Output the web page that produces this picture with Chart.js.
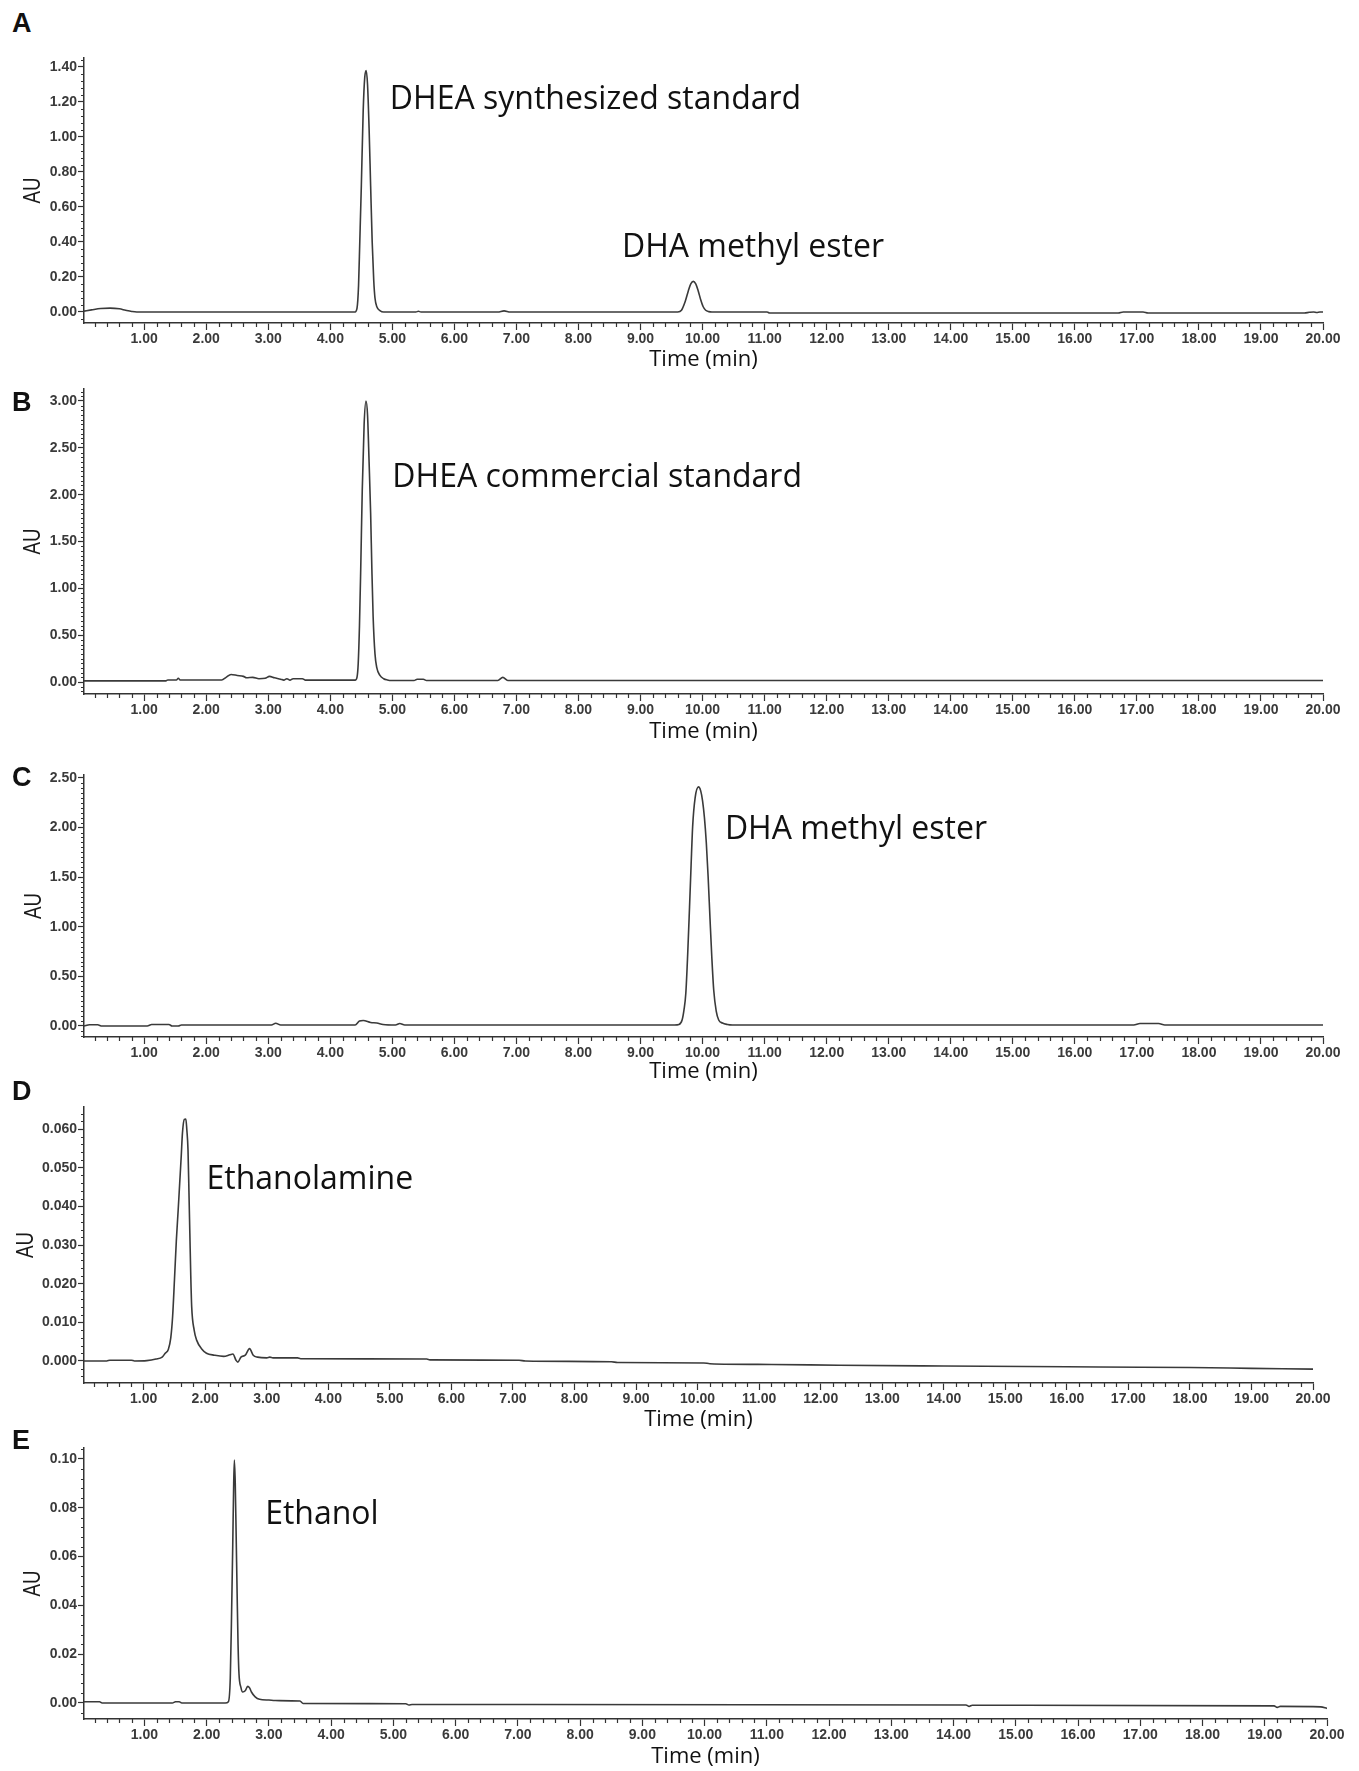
<!DOCTYPE html>
<html>
<head>
<meta charset="utf-8">
<script src="https://cdn.jsdelivr.net/npm/chart.js@4.4.1/dist/chart.umd.min.js"></script>
<style>
  body { margin: 0; background: #fff; }
  #page { position: relative; width: 1359px; height: 1771px; overflow: hidden; background: #fff; }
  #page canvas { position: absolute; left: 0; }
  .tag { position: absolute; left: 12px; font: bold 27px 'Liberation Sans', Arial, sans-serif; line-height: 30px; color: #111; }
</style>
</head>
<body>
<div id="page"></div>
<script>
// [time (min), AU]
const traceA = [
  [0.03, 0.005], [0.15, 0.012], [0.30, 0.020], [0.45, 0.022], [0.60, 0.018], [0.70, 0.010], [0.80, 0.003], [0.88, 0.000],
  [4.40, 0.000], [4.43, 0.02], [4.455, 0.15], [4.475, 0.40], [4.50, 0.72], [4.53, 1.15], [4.555, 1.34], [4.578, 1.38],
  [4.60, 1.30], [4.625, 1.05], [4.65, 0.72], [4.675, 0.40], [4.70, 0.18], [4.72, 0.08], [4.75, 0.03], [4.80, 0.008], [4.86, 0.000],
  [5.38, 0.000], [5.42, 0.004], [5.46, 0.000],
  [6.70, 0.000], [6.80, 0.006], [6.90, 0.000],
  [9.60, 0.000], [9.66, 0.010], [9.72, 0.060], [9.77, 0.120], [9.81, 0.160], [9.85, 0.175], [9.89, 0.160], [9.93, 0.120],
  [9.97, 0.070], [10.01, 0.030], [10.05, 0.010], [10.10, 0.002], [10.15, 0.000],
  [11.04, 0.000], [11.08, -0.006], [16.70, -0.006], [16.78, 0.000], [17.10, 0.000], [17.18, -0.006],
  [19.70, -0.006], [19.78, -0.002], [19.85, 0.000], [19.90, -0.003], [19.95, 0.000], [20.00, 0.000]
]

const traceB = [
  [0.03, 0.012], [1.35, 0.012], [1.38, 0.022], [1.52, 0.022], [1.55, 0.040], [1.58, 0.022],
  [2.25, 0.022], [2.32, 0.050], [2.40, 0.080], [2.50, 0.070], [2.60, 0.060], [2.65, 0.045], [2.75, 0.050], [2.85, 0.035],
  [2.95, 0.040], [3.02, 0.060], [3.10, 0.045], [3.20, 0.030], [3.25, 0.020], [3.30, 0.035], [3.35, 0.020], [3.40, 0.035],
  [3.55, 0.035], [3.60, 0.020],
  [4.40, 0.020], [4.43, 0.05], [4.45, 0.20], [4.47, 0.60], [4.49, 1.20], [4.515, 2.05], [4.545, 2.75], [4.575, 3.00],
  [4.60, 2.85], [4.625, 2.35], [4.65, 1.80], [4.67, 1.20], [4.69, 0.70], [4.72, 0.30], [4.75, 0.15], [4.80, 0.07],
  [4.86, 0.035], [4.92, 0.022], [4.98, 0.016],
  [5.35, 0.016], [5.40, 0.030], [5.50, 0.030], [5.55, 0.016],
  [6.70, 0.016], [6.78, 0.050], [6.86, 0.016], [20.00, 0.016]
]

const traceC = [
  [0.03, 0.000], [0.12, 0.012], [0.25, 0.012], [0.32, 0.000], [1.05, 0.000], [1.12, 0.015], [1.40, 0.015], [1.45, 0.000],
  [1.55, 0.000], [1.60, 0.010],
  [3.05, 0.010], [3.12, 0.027], [3.20, 0.010],
  [4.40, 0.010], [4.47, 0.050], [4.53, 0.055], [4.65, 0.035], [4.75, 0.030], [4.85, 0.015], [5.05, 0.010], [5.12, 0.025], [5.20, 0.010],
  [9.55, 0.010], [9.62, 0.015], [9.67, 0.060], [9.70, 0.160], [9.73, 0.330], [9.76, 0.720], [9.79, 1.200], [9.815, 1.620],
  [9.84, 2.010], [9.88, 2.300], [9.935, 2.410], [9.97, 2.370], [10.00, 2.270], [10.03, 2.100], [10.06, 1.850], [10.09, 1.500],
  [10.12, 1.080], [10.15, 0.680], [10.18, 0.360], [10.22, 0.150], [10.26, 0.060], [10.32, 0.030], [10.40, 0.015], [10.48, 0.010],
  [16.95, 0.010], [17.05, 0.025], [17.35, 0.025], [17.45, 0.010], [20.00, 0.010]
]

const traceD = [
  [0.03, 0.0000], [0.40, 0.0000], [0.45, 0.0002], [0.80, 0.0002], [0.85, 0.0000], [1.05, 0.0001], [1.20, 0.0005],
  [1.30, 0.0010], [1.35, 0.0020], [1.40, 0.0030], [1.44, 0.0060], [1.47, 0.0115], [1.50, 0.0210], [1.53, 0.0310],
  [1.56, 0.0390], [1.585, 0.0460], [1.61, 0.0530], [1.63, 0.0590], [1.66, 0.0625], [1.685, 0.0626], [1.70, 0.0600],
  [1.72, 0.0546], [1.735, 0.0440], [1.75, 0.0330], [1.765, 0.0220], [1.78, 0.0140], [1.82, 0.0080], [1.86, 0.0054],
  [1.95, 0.0030], [2.02, 0.0020], [2.15, 0.0015], [2.30, 0.0012], [2.40, 0.0016], [2.45, 0.0018], [2.50, 0.0002],
  [2.53, -0.0003], [2.58, 0.0010], [2.65, 0.0015], [2.72, 0.0032], [2.78, 0.0015], [2.85, 0.0010], [3.00, 0.0008],
  [3.05, 0.0010], [3.10, 0.0008], [3.50, 0.0008], [3.55, 0.0006], [5.60, 0.0005], [5.65, 0.0003], [7.10, 0.0002],
  [7.20, 0.0000], [8.60, -0.0002], [8.70, -0.0004], [10.10, -0.0005], [10.20, -0.0007], [11.20, -0.0009],
  [12.30, -0.0011], [14.00, -0.0013], [16.00, -0.0015], [17.20, -0.0016], [18.00, -0.0017], [19.00, -0.0019], [20.00, -0.0021]
]

const traceE = [
  [0.03, 0.0005], [0.28, 0.0005], [0.32, 0.0000], [1.45, 0.0000], [1.50, 0.0005], [1.56, 0.0005], [1.60, 0.0000],
  [2.30, 0.0000], [2.35, 0.0005], [2.38, 0.0100], [2.40, 0.0350], [2.42, 0.0650], [2.435, 0.0900], [2.446, 0.0996],
  [2.46, 0.0900], [2.475, 0.0680], [2.49, 0.0450], [2.505, 0.0240], [2.52, 0.0120], [2.55, 0.0065], [2.58, 0.0045],
  [2.62, 0.0050], [2.66, 0.0068], [2.69, 0.0062], [2.72, 0.0045], [2.78, 0.0025], [2.85, 0.0015], [3.00, 0.0012],
  [3.10, 0.0010], [3.50, 0.0008], [3.55, -0.0002], [5.20, -0.0003], [5.25, -0.0008], [5.30, -0.0006],
  [14.20, -0.0008], [14.25, -0.0014], [14.30, -0.0009], [19.15, -0.0012], [19.20, -0.0018], [19.25, -0.0014],
  [19.90, -0.0016], [20.00, -0.0022]
]

const timeTicks = [1, 2, 3, 4, 5, 6, 7, 8, 9, 10, 11, 12, 13, 14, 15, 16, 17, 18, 19, 20]
const auTicksA = [0, 0.2, 0.4, 0.6, 0.8, 1.0, 1.2, 1.4]
const auTicksB = [0, 0.5, 1.0, 1.5, 2.0, 2.5, 3.0]
const auTicksC = [0, 0.5, 1.0, 1.5, 2.0, 2.5]
const auTicksD = [0, 0.01, 0.02, 0.03, 0.04, 0.05, 0.06]
const auTicksE = [0, 0.02, 0.04, 0.06, 0.08, 0.10]

const panels = [
  { tag: 'A', tagY: 8, trace: traceA, ticks: auTicksA, minorSplit: 5, digits: 2, top: 58, bottom: 323, right: 1323, titleGap: 37, auX: 33,
    yMin: -0.063, yMax: 1.451,
    notes: [{ text: 'DHEA synthesized standard', t: 4.96, au: 1.211 }, { text: 'DHA methyl ester', t: 8.70, au: 0.366 }] },
  { tag: 'B', tagY: 387, trace: traceB, ticks: auTicksB, minorSplit: 10, digits: 2, top: 389, bottom: 694, right: 1323, titleGap: 38, auX: 33,
    yMin: -0.128, yMax: 3.128,
    notes: [{ text: 'DHEA commercial standard', t: 5.00, au: 2.178 }] },
  { tag: 'C', tagY: 762, trace: traceC, ticks: auTicksC, minorSplit: 10, digits: 2, top: 775, bottom: 1037, right: 1323, titleGap: 35, auX: 34,
    yMin: -0.111, yMax: 2.530,
    notes: [{ text: 'DHA methyl ester', t: 10.36, au: 1.976 }] },
  { tag: 'D', tagY: 1076, trace: traceD, ticks: auTicksD, minorSplit: 5, digits: 3, top: 1107, bottom: 1383, right: 1313, titleGap: 37, auX: 26,
    yMin: -0.00569, yMax: 0.06569,
    notes: [{ text: 'Ethanolamine', t: 2.02, au: 0.0468 }] },
  { tag: 'E', tagY: 1425, trace: traceE, ticks: auTicksE, minorSplit: 5, digits: 2, top: 1448, bottom: 1719, right: 1327, titleGap: 38, auX: 33,
    yMin: -0.00656, yMax: 0.1045,
    notes: [{ text: 'Ethanol', t: 2.94, au: 0.0770 }] }
]

const PAGE_W = 1359
const PAD_TOP = 10
const X_BOX = 52
const INK = '#333'

Chart.defaults.font.family = "'Liberation Sans', Arial, sans-serif"
Chart.defaults.color = '#333'

// minor ticks, the narrow "AU" title and the peak names
const extras = {
  id: 'extras',
  afterDraw (chart) {
    const p = chart.options.plugins.extras
    const { ctx, chartArea } = chart
    const x = chart.scales.x
    const y = chart.scales.y
    ctx.save()
    ctx.strokeStyle = INK
    ctx.lineWidth = 1.2
    ctx.beginPath()
    for (let i = 1; i < 100; i++) {
      if (i % 5 === 0) continue
      const px = Math.round(x.getPixelForValue(i * 0.2)) + 0.5
      ctx.moveTo(px, chartArea.bottom)
      ctx.lineTo(px, chartArea.bottom + 4)
    }
    const step = (p.ticks[1] - p.ticks[0]) / p.minorSplit
    const k0 = Math.ceil(y.min / step)
    const k1 = Math.floor(y.max / step)
    for (let k = k0; k <= k1; k++) {
      if (k % p.minorSplit === 0) continue
      const py = Math.round(y.getPixelForValue(k * step)) + 0.5
      ctx.moveTo(chartArea.left - 3, py)
      ctx.lineTo(chartArea.left, py)
    }
    ctx.stroke()

    ctx.fillStyle = '#1a1a1a'
    ctx.save()
    ctx.translate(p.auX, (chartArea.top + chartArea.bottom) / 2)
    ctx.rotate(-Math.PI / 2)
    ctx.scale(0.78, 1)
    ctx.font = "24px 'Liberation Sans'"
    ctx.textAlign = 'center'
    ctx.textBaseline = 'middle'
    ctx.fillText('AU', 0, 0)
    ctx.restore()

    ctx.fillStyle = '#111'
    ctx.font = "32px 'Open Sans'"
    ctx.textBaseline = 'middle'
    ctx.textAlign = 'left'
    for (const n of p.notes) {
      ctx.fillText(n.text, x.getPixelForValue(n.t), y.getPixelForValue(n.au))
    }
    ctx.restore()
  }
}

const page = document.getElementById('page')

function fixScale (size) {
  return function (s) {
    if (s.isHorizontal()) s.height = size
    else s.width = size
    s.paddingTop = 0
    s.paddingBottom = 0
    s.paddingLeft = 0
    s.paddingRight = 0
  }
}

for (const p of panels) {
  const canvas = document.createElement('canvas')
  const h = PAD_TOP + (p.bottom - p.top) + X_BOX
  canvas.width = PAGE_W
  canvas.height = h
  canvas.style.top = (p.top - PAD_TOP) + 'px'
  page.appendChild(canvas)

  const tag = document.createElement('div')
  tag.className = 'tag'
  tag.style.top = p.tagY + 'px'
  tag.textContent = p.tag
  page.appendChild(tag)

  new Chart(canvas, {
    type: 'line',
    data: {
      datasets: [{
        data: p.trace.map(([t, v]) => ({ x: t, y: v })),
        borderColor: '#3a3a3a',
        borderWidth: 1.6,
        pointRadius: 0,
        cubicInterpolationMode: 'monotone'
      }]
    },
    options: {
      responsive: false,
      animation: false,
      devicePixelRatio: 1,
      layout: {
        padding: { top: PAD_TOP, left: 0, right: PAGE_W - p.right, bottom: 0 }
      },
      scales: {
        x: {
          type: 'linear',
          min: 0.03,
          max: 20,
          afterBuildTicks: s => { s.ticks = timeTicks.map(v => ({ value: v })) },
          afterFit: fixScale(X_BOX),
          grid: { drawOnChartArea: false, drawTicks: true, tickLength: 7, tickColor: INK, tickWidth: 1.2 },
          border: { display: true, color: INK, width: 1.5 },
          ticks: {
            autoSkip: false,
            maxRotation: 0,
            padding: 1,
            font: { size: 14, weight: 'bold' },
            color: '#3a3a3a',
            callback: v => Number(v).toFixed(2)
          },
          title: {
            display: true,
            text: 'Time (min)',
            color: '#111',
            font: { family: "'Open Sans'", size: 22 },
            padding: { top: 0, bottom: X_BOX - p.titleGap - 13.2 }
          }
        },
        y: {
          type: 'linear',
          min: p.yMin,
          max: p.yMax,
          afterBuildTicks: s => { s.ticks = p.ticks.map(v => ({ value: v })) },
          afterFit: fixScale(84),
          grid: { drawOnChartArea: false, drawTicks: true, tickLength: 6, tickColor: INK, tickWidth: 1.2 },
          border: { display: true, color: INK, width: 1.5 },
          ticks: {
            autoSkip: false,
            padding: 1,
            font: { size: 14, weight: 'bold' },
            color: '#3a3a3a',
            callback: v => Number(v).toFixed(p.digits)
          }
        }
      },
      plugins: {
        legend: { display: false },
        tooltip: { enabled: false },
        extras: { ticks: p.ticks, minorSplit: p.minorSplit, notes: p.notes, auX: p.auX }
      }
    },
    plugins: [extras]
  })
}
</script>
</body>
</html>
